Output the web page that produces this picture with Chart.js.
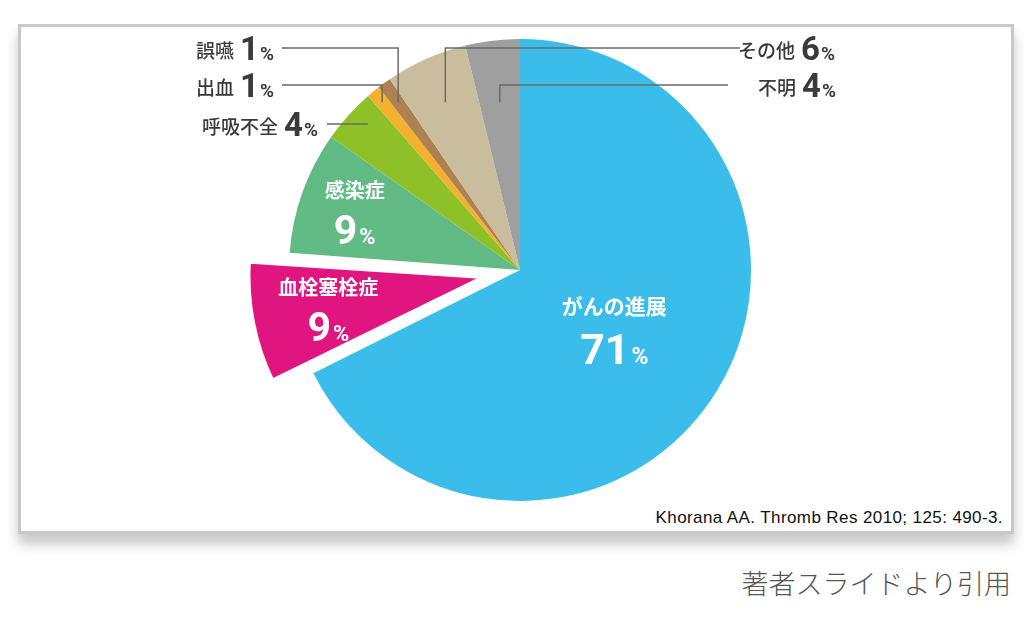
<!DOCTYPE html>
<html>
<head>
<meta charset="utf-8">
<script src="https://cdn.jsdelivr.net/npm/chart.js@4/dist/chart.umd.min.js"></script>
<style>
  html, body { margin: 0; padding: 0; background: #fff; }
  body { width: 1029px; height: 636px; position: relative; overflow: hidden; }
  #frame {
    position: absolute; left: 18px; top: 24px; width: 990px; height: 504px;
    border: 3px solid #c8c8c8; background: #fff;
    box-shadow: 0 10px 12px rgba(0,0,0,0.22);
  }
  #chartWrap { position: absolute; left: 0; top: 0; width: 1029px; height: 636px; }
  #cite {
    position: absolute; right: 26px; top: 508px; letter-spacing: 0.4px;
    font: 17px "Liberation Sans", Arial, sans-serif; color: #111;
  }
  #source {
    position: absolute; right: 18px; top: 563px;
    font: 300 27px "Noto Sans CJK JP", sans-serif; color: #555;
  }
</style>
</head>
<body>
<div id="frame"></div>
<div id="cite">Khorana AA. Thromb Res 2010; 125: 490-3.</div>
<div id="source">著者スライドより引用</div>
<div id="chartWrap"><canvas id="pieChart" width="1029" height="636"></canvas></div>
<script>
const labels = ['がんの進展', '血栓塞栓症', '感染症', '呼吸不全', '出血', '誤嚥', 'その他', '不明'];
const values = [71, 9, 9, 4, 1, 1, 6, 4];
const colors = ['#3bbdec', '#e0157f', '#62bb85', '#8dc127', '#f4b12f', '#ae8150', '#cabd9d', '#9f9fa0'];

// pull out the thrombosis slice
const offsets = [0, 116, 0, 0, 0, 0, 0, 0];
const borders = [0, 8, 0, 0, 0, 0, 0, 0];

// slices labelled inside (white text), with how far out along the radius
const insideLabels = { 0: 0.48, 1: 0.72, 2: 0.76 };

// outside callouts: text anchor, where the leader starts, and whether it bends down
const callouts = {
  3: { tx: 318, ty: 124, lx: 327, align: 'right', bend: false },
  4: { tx: 274, ty: 85, lx: 282, align: 'right', bend: true },
  5: { tx: 274, ty: 48, lx: 282, align: 'right', bend: true },
  6: { tx: 738, ty: 48, lx: 740, align: 'left', bend: true },
  7: { tx: 758, ty: 85, lx: 728, align: 'left', bend: true }
};
const bendDepth = 0.726; // leader ends at this fraction of the radius above the centre

function drawValue(ctx, name, val, cx, cy, o) {
  // name on top, big number + small % under it
  ctx.fillStyle = o.color;
  ctx.textBaseline = 'middle';
  ctx.textAlign = 'center';
  ctx.font = o.nameFont;
  ctx.fillText(name, cx, cy - o.gap);
  ctx.font = o.numFont;
  const nw = ctx.measureText(String(val)).width;
  ctx.font = o.pctFont;
  const pw = ctx.measureText('%').width;
  const left = cx - (nw + pw + 2) / 2;
  ctx.textAlign = 'left';
  ctx.textBaseline = 'alphabetic';
  ctx.font = o.numFont;
  ctx.fillText(String(val), left, cy + o.gap + o.numBase);
  ctx.font = o.pctFont;
  ctx.fillText('%', left + nw + 2, cy + o.gap + o.numBase);
}

function drawCallout(ctx, name, val, c) {
  ctx.fillStyle = '#3a3a3a';
  ctx.textBaseline = 'alphabetic';
  const nameFont = '500 19px "Noto Sans CJK JP"';
  const numFont = 'bold 33px Roboto';
  const pctFont = 'bold 19px Roboto';
  ctx.font = nameFont;
  const w1 = ctx.measureText(name).width;
  ctx.font = numFont;
  const w2 = ctx.measureText(String(val)).width;
  ctx.font = pctFont;
  const w3 = ctx.measureText('%').width;
  const total = w1 + 6 + w2 + 1 + w3;
  let x = c.align === 'right' ? c.tx - total : c.tx;
  const base = c.ty + 12;
  ctx.textAlign = 'left';
  ctx.font = nameFont;
  ctx.fillText(name, x, base - 2);
  x += w1 + 6;
  ctx.font = numFont;
  ctx.fillText(String(val), x, base);
  x += w2 + 1;
  ctx.font = pctFont;
  ctx.fillText('%', x, base);
}

const sliceLabels = {
  id: 'sliceLabels',
  afterDatasetsDraw(chart) {
    const ctx = chart.ctx;
    const arcs = chart.getDatasetMeta(0).data;
    ctx.save();
    arcs.forEach((arc, i) => {
      const p = arc.getProps(['x', 'y', 'startAngle', 'endAngle', 'outerRadius'], true);
      const mid = (p.startAngle + p.endAngle) / 2;
      const shift = offsets[i] / 4;
      const ox = p.x + Math.cos(mid) * shift;
      const oy = p.y + Math.sin(mid) * shift;
      if (insideLabels[i] !== undefined) {
        const r = p.outerRadius * insideLabels[i];
        const cx = ox + Math.cos(mid) * r;
        const cy = oy + Math.sin(mid) * r;
        const big = i === 0;
        drawValue(ctx, labels[i], values[i], cx, cy, {
          color: '#fff',
          gap: big ? 22 : 20,
          numBase: big ? 14 : 13,
          nameFont: big ? 'bold 21px "Noto Sans CJK JP"' : 'bold 20px "Noto Sans CJK JP"',
          numFont: big ? 'bold 43px Roboto' : 'bold 41px Roboto',
          pctFont: big ? 'bold 23px Roboto' : 'bold 22px Roboto'
        });
        return;
      }
      const c = callouts[i];
      if (!c) return;
      ctx.strokeStyle = '#6a6a6a';
      ctx.lineWidth = 1.5;
      ctx.beginPath();
      if (c.bend) {
        const ay = p.y - p.outerRadius * bendDepth;
        const ax = p.x + (p.y - ay) * Math.cos(mid) / -Math.sin(mid);
        ctx.moveTo(c.lx, c.ty);
        ctx.lineTo(ax, c.ty);
        ctx.lineTo(ax, ay);
      } else {
        const ax = p.x + (c.ty - p.y) * Math.cos(mid) / Math.sin(mid);
        ctx.moveTo(c.lx, c.ty);
        ctx.lineTo(ax + 10, c.ty);
      }
      ctx.stroke();
      drawCallout(ctx, labels[i], values[i], c);
    });
    ctx.restore();
  }
};

new Chart(document.getElementById('pieChart').getContext('2d'), {
  type: 'pie',
  data: {
    labels: labels,
    datasets: [{
      data: values,
      backgroundColor: colors,
      borderColor: '#fff',
      borderWidth: borders,
      offset: offsets
    }]
  },
  options: {
    responsive: false,
    animation: false,
    radius: 231,
    layout: { padding: { left: 11, right: 0, top: 0, bottom: 96 } },
    plugins: {
      legend: { display: false },
      tooltip: { enabled: false }
    }
  },
  plugins: [sliceLabels]
});
</script>
</body>
</html>
